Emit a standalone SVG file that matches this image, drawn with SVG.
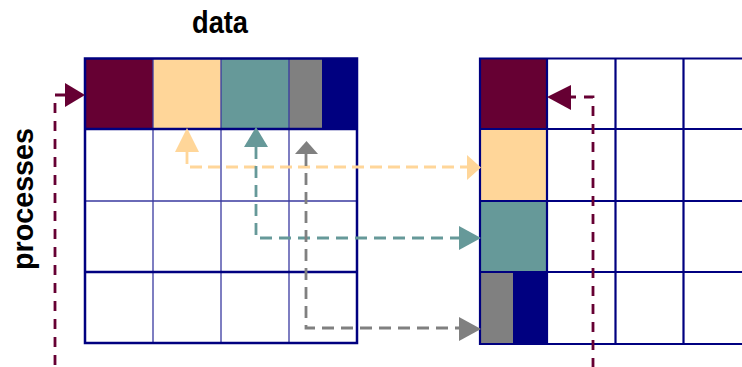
<svg xmlns="http://www.w3.org/2000/svg" width="742" height="367" viewBox="0 0 742 367">
<style>
.lbl{font-family:"Liberation Sans",Arial,sans-serif;font-weight:bold;fill:#000}
.thin{stroke:#3a3aa0;stroke-width:1.3;fill:none}
.thick{stroke:#000080;stroke-width:2.5;fill:none}
.rg{stroke:#000080;stroke-width:2.2;fill:none}
.con{fill:none;stroke-width:2.8}
.maroon{fill:#660033}.peach{fill:#FFD699}.teal{fill:#669999}.gray{fill:#808080}.navy{fill:#000080}
</style>
<rect width="742" height="367" fill="#fff"/>
<text class="lbl" x="220" y="33" font-size="31" text-anchor="middle" textLength="56" lengthAdjust="spacingAndGlyphs">data</text>
<text class="lbl" font-size="30" text-anchor="middle" textLength="142" lengthAdjust="spacingAndGlyphs" transform="translate(33,199) rotate(-90)">processes</text>

<g id="left-grid">
  <rect class="maroon" x="85" y="58.5" width="68" height="70.5"/>
  <rect class="peach" x="153" y="58.5" width="68" height="70.5"/>
  <rect class="teal" x="221" y="58.5" width="68" height="70.5"/>
  <rect class="gray" x="289" y="58.5" width="33" height="70.5"/>
  <rect class="navy" x="322" y="58.5" width="35" height="70.5"/>
  <path class="thin" d="M153,58.5V343M221,58.5V343M289,129V343M85,201H357"/>
  <path class="thin" d="M289,58.5V129"/>
  <path class="thick" d="M85,129H357M85,272H357"/>
  <rect class="thick" x="85" y="58.5" width="272" height="284.5" stroke-width="3"/>
</g>

<g id="right-grid">
  <rect class="maroon" x="480" y="58.5" width="67" height="70.5"/>
  <rect class="peach" x="480" y="129" width="67" height="72"/>
  <rect class="teal" x="480" y="201" width="67" height="71"/>
  <rect class="gray" x="480" y="272" width="33" height="72"/>
  <rect class="navy" x="513" y="272" width="34" height="72"/>
  <path class="rg" d="M547,58.5V344M615.5,58.5V344M683.5,58.5V344M480,129H760M480,201H760M480,272H760"/>
  <path class="rg" d="M760,58.5H480V344H760" stroke-width="3"/>
</g>

<g id="connectors">
  <path class="con" stroke="#660033" stroke-width="2.5" stroke-dasharray="10,8" d="M65,95H55V365"/>
  <polygon class="maroon" points="85,95 65,83 65,107"/>
  <path class="con" stroke="#660033" stroke-width="2.5" stroke-dasharray="10,8" stroke-dashoffset="5" d="M571,97H593V367"/>
  <polygon class="maroon" points="547,97 571,85 571,110"/>

  <path class="con" stroke="#FFD699" stroke-dasharray="12,6" d="M187,152V167H468"/>
  <polygon class="peach" points="187,128 175,152 199,152"/>
  <polygon class="peach" points="481,167.5 467,155 467,180"/>

  <path class="con" stroke="#669999" stroke-dasharray="12,7" d="M256,147V238H460"/>
  <polygon class="teal" points="256,127 244,147 268,147"/>
  <polygon class="teal" points="481,238 459,226 459,250"/>

  <path class="con" stroke="#808080" stroke-dasharray="12,7" d="M306,154V328H460"/>
  <polygon class="gray" points="306.5,141 295,154 318,154"/>
  <polygon class="gray" points="481,329 459,317 459,341"/>
</g>
</svg>
